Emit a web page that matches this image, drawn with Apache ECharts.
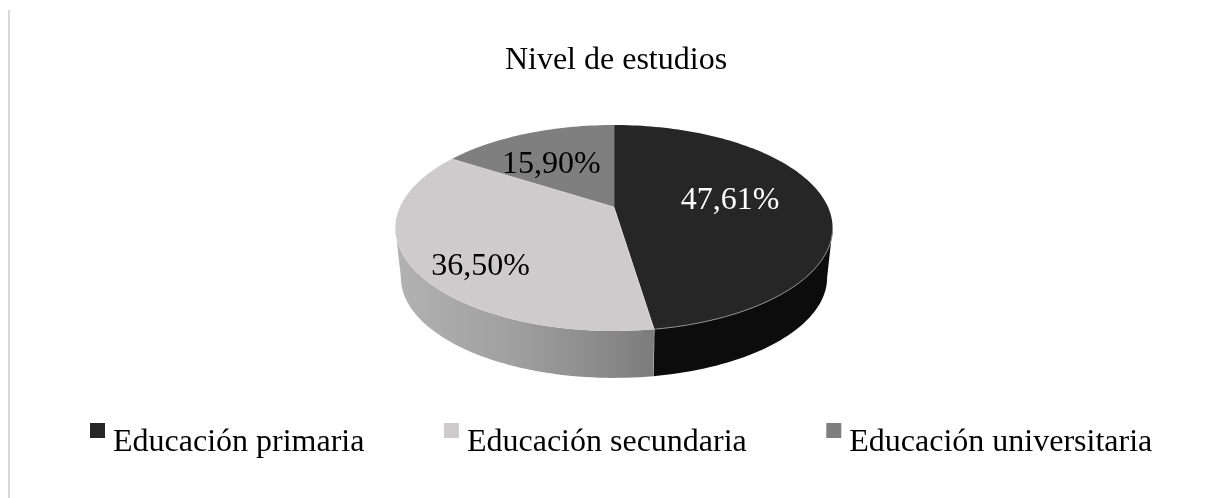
<!DOCTYPE html>
<html>
<head>
<meta charset="utf-8">
<script src="https://cdn.jsdelivr.net/npm/echarts@6/dist/echarts.min.js"></script>
<style>html,body{margin:0;padding:0;background:#fff}#c{width:1220px;height:498px}</style>
</head>
<body>
<div id="c"></div>
<script>
const titleText = 'Nivel de estudios';
const categories = ['Educación primaria', 'Educación secundaria', 'Educación universitaria'];
const values = [47.61, 36.50, 15.90];
const colors = ['#262626', '#cdcbcc', '#7f7f7f'];
const labelColors = ['#ffffff', '#000000', '#000000'];
// label placement in pie space: fraction of radius, and angle shift from the slice middle
const labelRadius = [0.56, 0.76, 0.60];
const labelShift = [-5.2, -9.8, -3.9];

const FONT = '"Liberation Serif", "Times New Roman", serif';
// oblique view of the disc
const view = { cx: 614, cy: 207, a: 214, k: 98.7, p: 0.204, depth: 50, shrink: 0.975 };
const total = values.reduce((s, v) => s + v, 0);
const edge = Math.acos(-view.p) * 180 / Math.PI; // silhouette angle

function project(deg, r, lower) {
  const t = deg * Math.PI / 180;
  const X = r * Math.sin(t), Z = r * Math.cos(t), d = 1 + view.p * Z;
  const s = lower ? view.shrink : 1;
  return [view.cx + s * view.a * X / d,
          view.cy + (lower ? view.depth : 0) - s * view.k * Z / d];
}
function rim(from, to, lower) {
  const pts = [], n = Math.max(2, Math.ceil(Math.abs(to - from) / 1.5));
  for (let i = 0; i <= n; i++) pts.push(project(from + (to - from) * i / n, 1, lower));
  return pts;
}

function sliceRender(index) {
  return function (params, api) {
    const start = values.slice(0, index).reduce((s, v) => s + v, 0) / total * 360;
    const end = start + api.value(0) / total * 360;
    const children = [];
    // side wall, only the part of the rim that faces the viewer
    const from = Math.max(start, edge), to = Math.min(end, 360 - edge);
    if (to > from) {
      const top = rim(from, to, false), low = rim(to, from, true);
      const fill = index === 0 ? '#0c0c0c' : new echarts.graphic.LinearGradient(0, 0, 1, 0, [
        { offset: 0, color: '#b2b2b2' }, { offset: 0.45, color: '#a0a0a0' },
        { offset: 0.8, color: '#8a8a8a' }, { offset: 1, color: '#7c7c7c' }]);
      children.push({ type: 'polygon', shape: { points: top.concat(low) }, style: { fill: fill } });
    }
    // top face
    children.push({ type: 'polygon', shape: { points: [[view.cx, view.cy]].concat(rim(start, end, false)) },
      style: { fill: api.visual('color') } });
    // thin light seams
    children.push({ type: 'polyline', shape: { points: [[view.cx, view.cy], project(start, 1, false)] },
      style: { fill: 'none', stroke: 'rgba(255,255,255,0.35)', lineWidth: 1 } });
    if (index === 0) {
      children.push({ type: 'polyline', shape: { points: rim(from, to, false) },
        style: { fill: 'none', stroke: '#8c8c8c', lineWidth: 1 } });
      children.push({ type: 'polyline', shape: { points: [project(to, 1, false), project(to, 1, true)] },
        style: { fill: 'none', stroke: 'rgba(255,255,255,0.6)', lineWidth: 1 } });
    }
    // value label
    const pos = project((start + end) / 2 + labelShift[index], labelRadius[index], false);
    children.push({ type: 'text', z2: 10, style: {
      x: pos[0], y: pos[1] + 2.5, text: api.value(0).toFixed(2).replace('.', ',') + '%',
      fill: labelColors[index], font: '32px ' + FONT, align: 'center', verticalAlign: 'middle' } });
    return { type: 'group', children: children };
  };
}

const chart = echarts.init(document.getElementById('c'), null, { renderer: 'canvas' });
chart.setOption({
  animation: false,
  backgroundColor: '#ffffff',
  title: { text: titleText, left: 611, textAlign: 'center', top: 40,
    textStyle: { fontFamily: FONT, fontSize: 32, fontWeight: 'normal', color: '#000' } },
  legend: { data: categories, left: 85, top: 418, itemWidth: 15, itemHeight: 15, itemGap: 79.5,
    icon: 'rect', selectedMode: false,
    formatter: name => '{t|' + name + '}',
    textStyle: { fontFamily: FONT, fontSize: 32, color: '#000',
      rich: { t: { fontFamily: FONT, fontSize: 32, color: '#000', padding: [24, 0, 0, 3] } } } },
  graphic: [{ type: 'rect', shape: { x: 8, y: 10, width: 2, height: 488 }, style: { fill: '#d9d9d9' }, silent: true }],
  series: categories.map((name, i) => ({
    type: 'custom', name: name, coordinateSystem: 'none', silent: true, z: 2,
    itemStyle: { color: colors[i] },
    data: [[values[i]]],
    dimensions: ['value'],
    encode: { value: 0 },
    renderItem: sliceRender(i)
  }))
});
</script>
</body>
</html>
